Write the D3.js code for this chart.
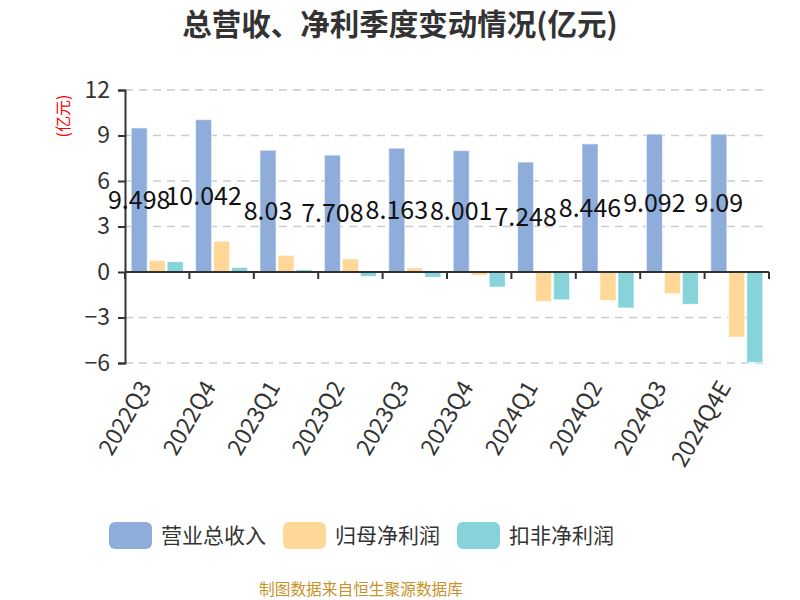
<!DOCTYPE html>
<html><head><meta charset="utf-8">
<script src="https://cdn.jsdelivr.net/npm/d3@7"></script>
<style>body{margin:0;background:#fff}svg{display:block}text{font-family:"Noto Sans CJK SC","Noto Sans",sans-serif}</style>
</head><body>
<svg id="c" width="800" height="600"></svg>
<script>
const categories = ["2022Q3","2022Q4","2023Q1","2023Q2","2023Q3","2023Q4","2024Q1","2024Q2","2024Q3","2024Q4E"];
const seriesNames = ["营业总收入","归母净利润","扣非净利润"];
const revenue = [9.498,10.042,8.03,7.708,8.163,8.001,7.248,8.446,9.092,9.09];
const netProfit = [0.75,2.03,1.10,0.87,0.28,-0.22,-1.94,-1.87,-1.43,-4.29];
const deductedProfit = [0.68,0.30,0.15,-0.29,-0.35,-0.99,-1.83,-2.37,-2.13,-5.96];
const yTicks = [-6,-3,0,3,6,9,12];
const colors = ["#8eaddb","#ffd897","#86d4d9"];
const title = "总营收、净利季度变动情况(亿元)";
const unitLabel = "(亿元)";
const source = "制图数据来自恒生聚源数据库";

const svg = d3.select("#c");
const L = 125, R = 769, T = 90, B = 363;
const latin = '"Noto Sans","Noto Sans CJK SC",sans-serif';
const x = d3.scaleBand().domain(categories).range([L, R]).paddingInner(0).paddingOuter(0);
const xs = d3.scaleBand().domain(seriesNames).range([6.2, x.bandwidth() - 6.2]).paddingInner(0.11);
const y = d3.scaleLinear().domain([-6, 12]).range([B, T]);

// title
svg.append("text").attr("x", 400).attr("y", 35).attr("text-anchor", "middle")
  .attr("font-size", 29.5).attr("font-weight", "bold").attr("fill", "#333").text(title);

// grid
svg.append("g").selectAll("line").data(yTicks.filter(d => d !== 0)).join("line")
  .attr("x1", L).attr("x2", R).attr("y1", d => y(d)).attr("y2", d => y(d))
  .attr("stroke", "#ccc").attr("stroke-width", 1.5).attr("stroke-dasharray", "8,6");

// y axis
const yAxis = svg.append("g").attr("transform", `translate(${L},0)`)
  .call(d3.axisLeft(y).tickValues(yTicks).tickSize(7).tickPadding(8).tickFormat(d3.format("d")));
yAxis.select(".domain").attr("stroke", "#333").attr("stroke-width", 2);
yAxis.selectAll(".tick line").attr("stroke", "#333").attr("stroke-width", 2);
yAxis.selectAll(".tick text").attr("font-size", 23).attr("fill", "#333").attr("font-family", latin);

// unit label
svg.append("text").attr("transform", "translate(69,116) rotate(-90)").attr("text-anchor", "middle")
  .attr("font-size", 16).attr("fill", "red").text(unitLabel);

// bars
const data = categories.map((c, i) => ({c, vals: [revenue[i], netProfit[i], deductedProfit[i]]}));
const g = svg.append("g").selectAll("g").data(data).join("g")
  .attr("transform", d => `translate(${x(d.c)},0)`);
g.selectAll("rect").data(d => d.vals.map((v, k) => ({v, k}))).join("rect")
  .attr("x", d => xs(seriesNames[d.k])).attr("width", xs.bandwidth())
  .attr("y", d => y(Math.max(0, d.v))).attr("height", d => Math.abs(y(d.v) - y(0)))
  .attr("fill", d => colors[d.k]).attr("stroke", "rgba(255,255,255,0.6)").attr("stroke-width", 1);

// x axis at zero
const xAxis = svg.append("g").attr("transform", `translate(0,${y(0)})`);
xAxis.append("line").attr("x1", L).attr("x2", R).attr("stroke", "#333").attr("stroke-width", 2);
xAxis.selectAll(".tk").data(d3.range(categories.length + 1)).join("line")
  .attr("x1", i => L + i * x.step()).attr("x2", i => L + i * x.step())
  .attr("y1", 0).attr("y2", 7).attr("stroke", "#333").attr("stroke-width", 2);

// x labels
svg.append("g").selectAll("text").data(categories).join("text")
  .attr("transform", d => `translate(${x(d) + x.bandwidth() / 2 - 12},${B + 20}) rotate(-60)`)
  .attr("text-anchor", "end").attr("dy", "0.35em").attr("font-size", 23).attr("fill", "#333")
  .attr("font-family", latin).text(d => d);

// value labels (revenue, centered inside bars)
svg.append("g").selectAll("text").data(data).join("text")
  .attr("x", d => x(d.c) + xs(seriesNames[0]) + xs.bandwidth() / 2)
  .attr("y", d => (y(d.vals[0]) + y(0)) / 2).attr("dy", "0.35em")
  .attr("text-anchor", "middle").attr("font-size", 25).attr("fill", "#111")
  .attr("font-family", latin)
  .text(d => d.vals[0]);

// legend
const legX = [109, 283, 457];
const leg = svg.append("g").selectAll("g").data(seriesNames).join("g")
  .attr("transform", (d, i) => `translate(${legX[i]},522)`);
leg.append("rect").attr("width", 43).attr("height", 27).attr("rx", 6).attr("fill", (d, i) => colors[i]);
leg.append("text").attr("x", 52).attr("y", 14).attr("dy", "0.35em").attr("font-size", 21)
  .attr("fill", "#333").text(d => d);

// source
svg.append("text").attr("x", 361).attr("y", 590).attr("dy", "0.35em").attr("text-anchor", "middle")
  .attr("font-size", 15.7).attr("fill", "#c8922a").text(source);
</script>
</body></html>
